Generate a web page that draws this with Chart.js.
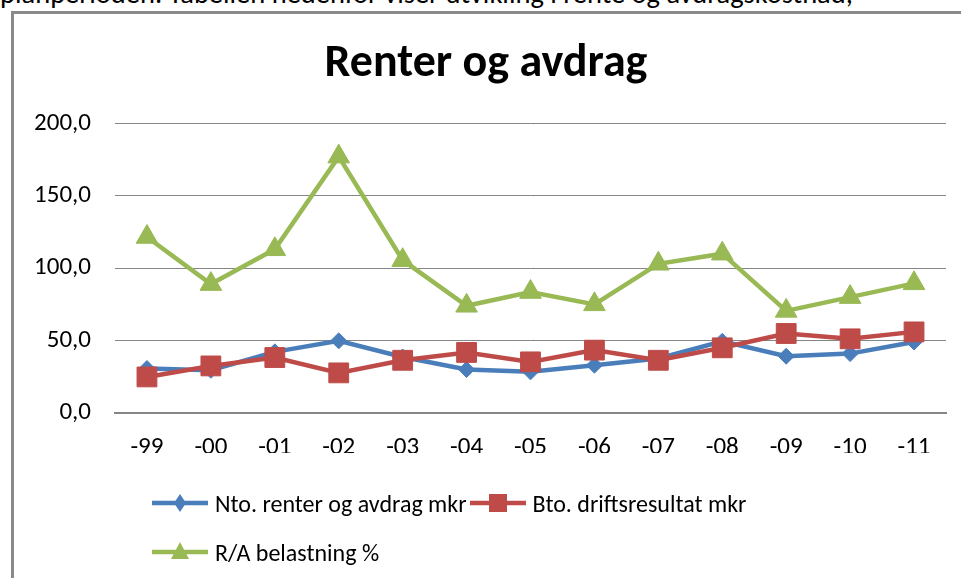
<!DOCTYPE html>
<html>
<head>
<meta charset="utf-8">
<script src="https://cdn.jsdelivr.net/npm/chart.js@4/dist/chart.umd.min.js"></script>
<style>
  body { margin: 0; width: 961px; height: 578px; overflow: hidden; background: #fff; position: relative; font-family: Carlito, Calibri, Lato, sans-serif; }
  .intro { position: absolute; left: 0; top: -21px; font-size: 28.5px; line-height: 29px; white-space: nowrap; color: #000; }
  .box { position: absolute; left: 11px; top: 11px; width: 1000px; height: 620px; border: 3px solid #8a8a8a; }
  #chart { position: absolute; left: 0; top: 0; }
  .legend { position: absolute; left: 152px; top: 491px; width: 650px; display: flex; flex-wrap: wrap; row-gap: 25px; column-gap: 3px; }
  .item { display: inline-flex; align-items: center; height: 24px; font-size: 24px; color: #000; white-space: nowrap; }
  .item svg { margin-right: 7px; }
</style>
</head>
<body>
<div class="intro">planperioden. Tabellen nedenfor viser utvikling i rente og avdragskostnad,</div>
<div class="box"></div>
<canvas id="chart" width="961" height="578"></canvas>
<div class="legend" id="legend"></div>
<script>
// year labels along the x axis
const years = ['-99', '-00', '-01', '-02', '-03', '-04', '-05', '-06', '-07', '-08', '-09', '-10', '-11'];

// Nto. renter og avdrag mkr
const ntoRenter = [30.7, 29.5, 42.2, 49.8, 38.7, 30.0, 28.4, 33.0, 37.6, 49.5, 39.2, 41.0, 49.0];
// Bto. driftsresultat mkr
const btoDrift = [24.9, 32.5, 38.3, 27.7, 36.4, 41.8, 35.3, 43.4, 36.4, 45.0, 54.9, 51.2, 56.0];
// R/A belastning %
const raBelastning = [121.5, 89.0, 113.0, 177.0, 105.5, 74.0, 83.5, 75.0, 103.0, 110.0, 70.5, 80.0, 89.5];

const yTicks = [0, 50, 100, 150, 200];

const blue = '#4a7ebb';
const red = '#be4b48';
const green = '#98b954';
const fontFamily = 'Carlito, Calibri, Lato, sans-serif';

const series = [
  { label: 'Nto. renter og avdrag mkr', data: ntoRenter, color: blue, style: 'rectRot', radius: 8, order: 3 },
  { label: 'Bto. driftsresultat mkr', data: btoDrift, color: red, style: 'rect', radius: 14, order: 2 },
  { label: 'R/A belastning %', data: raBelastning, color: green, style: 'triangle', radius: 12.5, order: 1 }
];

const ctx = document.getElementById('chart').getContext('2d');
new Chart(ctx, {
  type: 'line',
  data: {
    labels: years,
    datasets: series.map(s => ({
      label: s.label,
      data: s.data,
      order: s.order,
      borderColor: s.color,
      backgroundColor: s.color,
      borderWidth: 4.5,
      tension: 0,
      pointStyle: s.style,
      pointRadius: s.radius,
      pointHoverRadius: s.radius,
      pointBackgroundColor: s.color,
      pointBorderColor: s.color,
      pointBorderWidth: 1
    }))
  },
  options: {
    responsive: false,
    animation: false,
    // left padding pushes the title centre a bit right, like the original
    layout: { padding: { left: 26, right: 15, top: 0, bottom: 125 } },
    plugins: {
      legend: { display: false },
      tooltip: { enabled: false },
      title: {
        display: true,
        text: 'Renter og avdrag',
        color: '#000',
        font: { family: fontFamily, size: 46, weight: 'bold' },
        padding: { top: 36.4, bottom: 31.7 }
      }
    },
    scales: {
      x: {
        offset: true,
        grid: { display: false, drawTicks: false },
        border: { display: true, color: '#868686', width: 2 },
        ticks: { color: '#000', font: { family: fontFamily, size: 25 }, padding: 20, maxRotation: 0, autoSkip: false },
        afterFit: scale => { scale.height = 40; }
      },
      y: {
        min: 0,
        max: 200,
        afterBuildTicks: scale => { scale.ticks = yTicks.map(v => ({ value: v })); },
        grid: { color: '#868686', lineWidth: 1, drawTicks: false },
        border: { display: false },
        ticks: {
          color: '#000',
          font: { family: fontFamily, size: 25 },
          padding: 24,
          callback: v => v.toFixed(1).replace('.', ',')
        },
        afterFit: scale => { scale.width = 89; }
      }
    }
  }
});

// legend built as html, two rows like the original
function icon(s) {
  let marker = '';
  if (s.style === 'rectRot') marker = '<polygon points="28,3 34,12 28,21 22,12" fill="' + s.color + '"/>';
  if (s.style === 'rect') marker = '<rect x="19" y="3" width="18" height="18" fill="' + s.color + '"/>';
  if (s.style === 'triangle') marker = '<polygon points="28,2 37,19 19,19" fill="' + s.color + '"/>';
  return '<svg width="56" height="24"><line x1="0" y1="12" x2="56" y2="12" stroke="' + s.color + '" stroke-width="4.5"/>' + marker + '</svg>';
}
const legend = document.getElementById('legend');
series.forEach(s => {
  const el = document.createElement('div');
  el.className = 'item';
  el.innerHTML = icon(s) + '<span>' + s.label + '</span>';
  legend.appendChild(el);
});
</script>
</body>
</html>
